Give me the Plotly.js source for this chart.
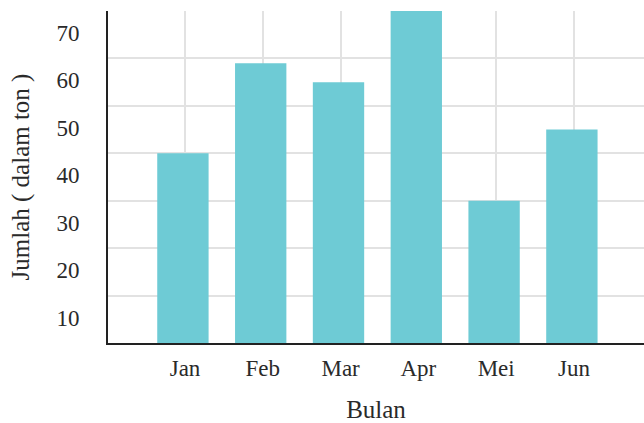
<!DOCTYPE html>
<html>
<head>
<meta charset="utf-8">
<script src="https://cdn.plot.ly/plotly-3.0.1.min.js"></script>
<style>html,body{margin:0;padding:0;background:#fff;}#chart{width:644px;height:423px;}</style>
</head>
<body>
<div id="chart"></div>
<script>
const months = ["Jan", "Feb", "Mar", "Apr", "Mei", "Jun"];
const jumlah = [40, 59, 55, 70, 30, 45];
const yTicks = [10, 20, 30, 40, 50, 60, 70];
const xTitle = "Bulan";
const yTitle = "Jumlah ( dalam ton )";

const tickFont = {family: "Liberation Serif, Times New Roman, serif", size: 23, color: "#2a2a2a"};
const titleFont = {family: "Liberation Serif, Times New Roman, serif", size: 25, color: "#2a2a2a"};

const data = [{
  type: "bar",
  x: months,
  y: jumlah,
  width: 0.66,
  offset: -0.357,
  marker: {color: "#6ECBD5", line: {width: 0}},
  hoverinfo: "skip"
}];

const layout = {
  width: 644, height: 423,
  margin: {l: 108, r: 0, t: 11, b: 80, pad: 0},
  paper_bgcolor: "#fff", plot_bgcolor: "#fff",
  font: tickFont,
  showlegend: false,
  xaxis: {
    type: "category",
    range: [-0.99, 5.9],
    showgrid: true, gridcolor: "#e2e2e2", gridwidth: 2,
    showline: true, linecolor: "#222", linewidth: 2,
    ticks: "", tickfont: tickFont,
    ticklabelstandoff: 3,
    title: {text: xTitle, font: titleFont, standoff: 22},
    zeroline: false, fixedrange: true
  },
  yaxis: {
    range: [0, 70],
    tickvals: yTicks, ticktext: yTicks.map(String),
    showgrid: true, gridcolor: "#e2e2e2", gridwidth: 2,
    showline: true, linecolor: "#222", linewidth: 2,
    ticks: "", tickfont: tickFont,
    ticklabelshift: 22, ticklabelstandoff: 22,
    title: {text: yTitle, font: titleFont, standoff: 20},
    zeroline: false, fixedrange: true
  },
  bargap: 0.3
};

Plotly.newPlot("chart", data, layout, {displayModeBar: false, staticPlot: true});
</script>
</body>
</html>
